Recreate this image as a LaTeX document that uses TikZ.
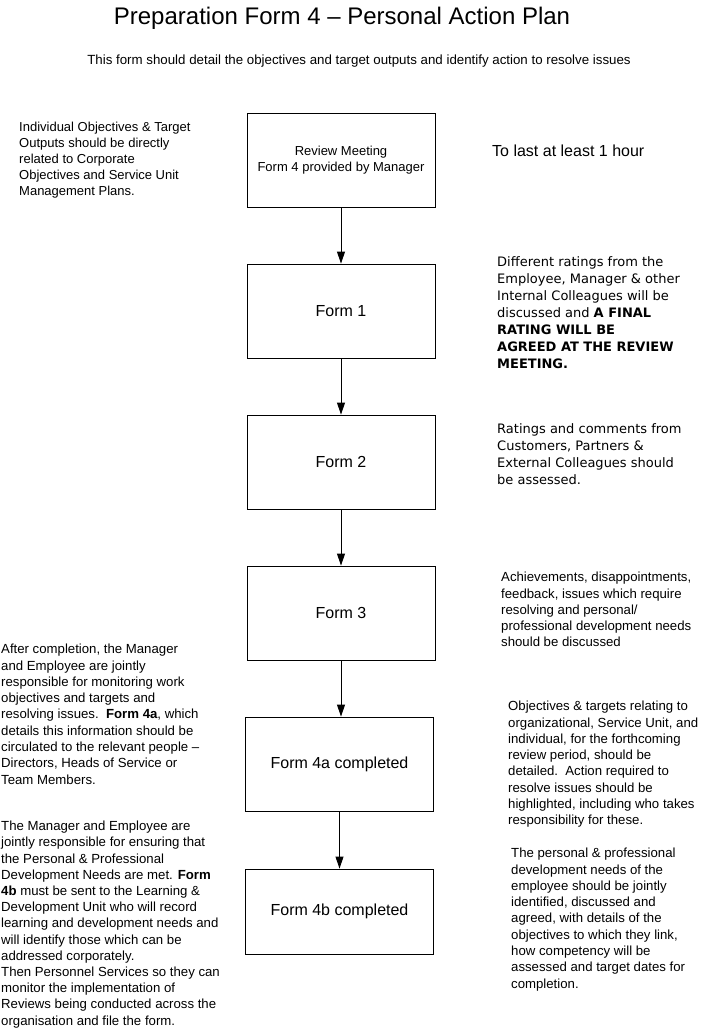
\documentclass[tikz,border=0pt]{standalone}
\usepackage{fontspec}
\setmainfont{Liberation Sans}
\newfontfamily\verd{DejaVu Sans}
\usetikzlibrary{arrows.meta}
\tikzset{
  formbox/.style={draw=black, line width=0.9pt, minimum width=188pt, minimum height=94pt, inner sep=0pt, align=center},
  note/.style={anchor=north west, inner sep=0pt, align=left, font=\fontsize{13.2}{16.3}\selectfont},
  vnote/.style={anchor=north west, inner sep=0pt, align=left, font=\verd\fontsize{13}{17}\selectfont},
  flow/.style={line width=0.9pt, -{Triangle[width=8pt,length=12pt]}}
}
\begin{document}
\begin{tikzpicture}[x=1pt,y=-1pt]
\useasboundingbox (0,0) rectangle (704,1029);
\node[inner sep=0pt, font=\fontsize{24}{28}\selectfont] (title) at (342,18) {Preparation Form 4 – Personal Action Plan};
\node[inner sep=0pt, font=\fontsize{13.3}{15}\selectfont] (sub) at (359,61) {This form should detail the objectives and target outputs and identify action to resolve issues};

\node[formbox, font=\fontsize{13}{16}\selectfont] (b0) at (341,160) {Review Meeting\\Form 4 provided by Manager};
\node[formbox, font=\fontsize{16}{19}\selectfont] (b1) at (341,311) {Form 1};
\node[formbox, font=\fontsize{16}{19}\selectfont] (b2) at (341,462) {Form 2};
\node[formbox, font=\fontsize{16}{19}\selectfont] (b3) at (341,613) {Form 3};
\node[formbox, font=\fontsize{16}{19}\selectfont] (b4) at (339.5,764) {Form 4a completed};
\node[formbox, font=\fontsize{16}{19}\selectfont, minimum height=85pt] (b5) at (339.5,911.5) {Form 4b completed};

\draw[flow] (b0.south) -- (b0.south |- b1.north);
\draw[flow] (b1.south) -- (b1.south |- b2.north);
\draw[flow] (b2.south) -- (b2.south |- b3.north);
\draw[flow] (b3.south) -- (b3.south |- b4.north);
\draw[flow] (b4.south) -- (b4.south |- b5.north);

\node[note, font=\fontsize{13}{16}\selectfont] (l1) at (19,122) {Individual Objectives \& Target\\Outputs should be directly\\related to Corporate\\Objectives and Service Unit\\Management Plans.};
\node[anchor=west, inner sep=0pt, font=\fontsize{16}{19}\selectfont] (r0) at (492,151) {To last at least 1 hour};
\node[vnote] (r1) at (497,256) {Different ratings from the\\Employee, Manager \& other\\Internal Colleagues will be\\discussed and \textbf{A FINAL}\\\textbf{RATING WILL BE}\\\textbf{AGREED AT THE REVIEW}\\\textbf{MEETING.}};
\node[vnote] (r2) at (497,423) {Ratings and comments from\\Customers, Partners \&\\External Colleagues should\\be assessed.};
\node[note] (r3) at (501,572) {Achievements, disappointments,\\feedback, issues which require\\resolving and personal/\\professional development needs\\should be discussed};
\node[note] (l2) at (1,644) {After completion, the Manager\\and Employee are jointly\\responsible for monitoring work\\objectives and targets and\\resolving issues.\ \ \textbf{Form 4a}, which\\details this information should be\\circulated to the relevant people –\\Directors, Heads of Service or\\Team Members.};
\node[note] (r4) at (508,701) {Objectives \& targets relating to\\organizational, Service Unit, and\\individual, for the forthcoming\\review period, should be\\detailed.\ \ Action required to\\resolve issues should be\\highlighted, including who takes\\responsibility for these.};
\node[note, font=\fontsize{13.2}{16.2}\selectfont] (l3) at (1,821) {The Manager and Employee are\\jointly responsible for ensuring that\\the Personal \& Professional\\Development Needs are met. \textbf{Form}\\\textbf{4b} must be sent to the Learning \&\\Development Unit who will record\\learning and development needs and\\will identify those which can be\\addressed corporately.\\Then Personnel Services so they can\\monitor the implementation of\\Reviews being conducted across the\\organisation and file the form.};
\node[note] (r5) at (511,848) {The personal \& professional\\development needs of the\\employee should be jointly\\identified, discussed and\\agreed, with details of the\\objectives to which they link,\\how competency will be\\assessed and target dates for\\completion.};
\end{tikzpicture}
\end{document}
